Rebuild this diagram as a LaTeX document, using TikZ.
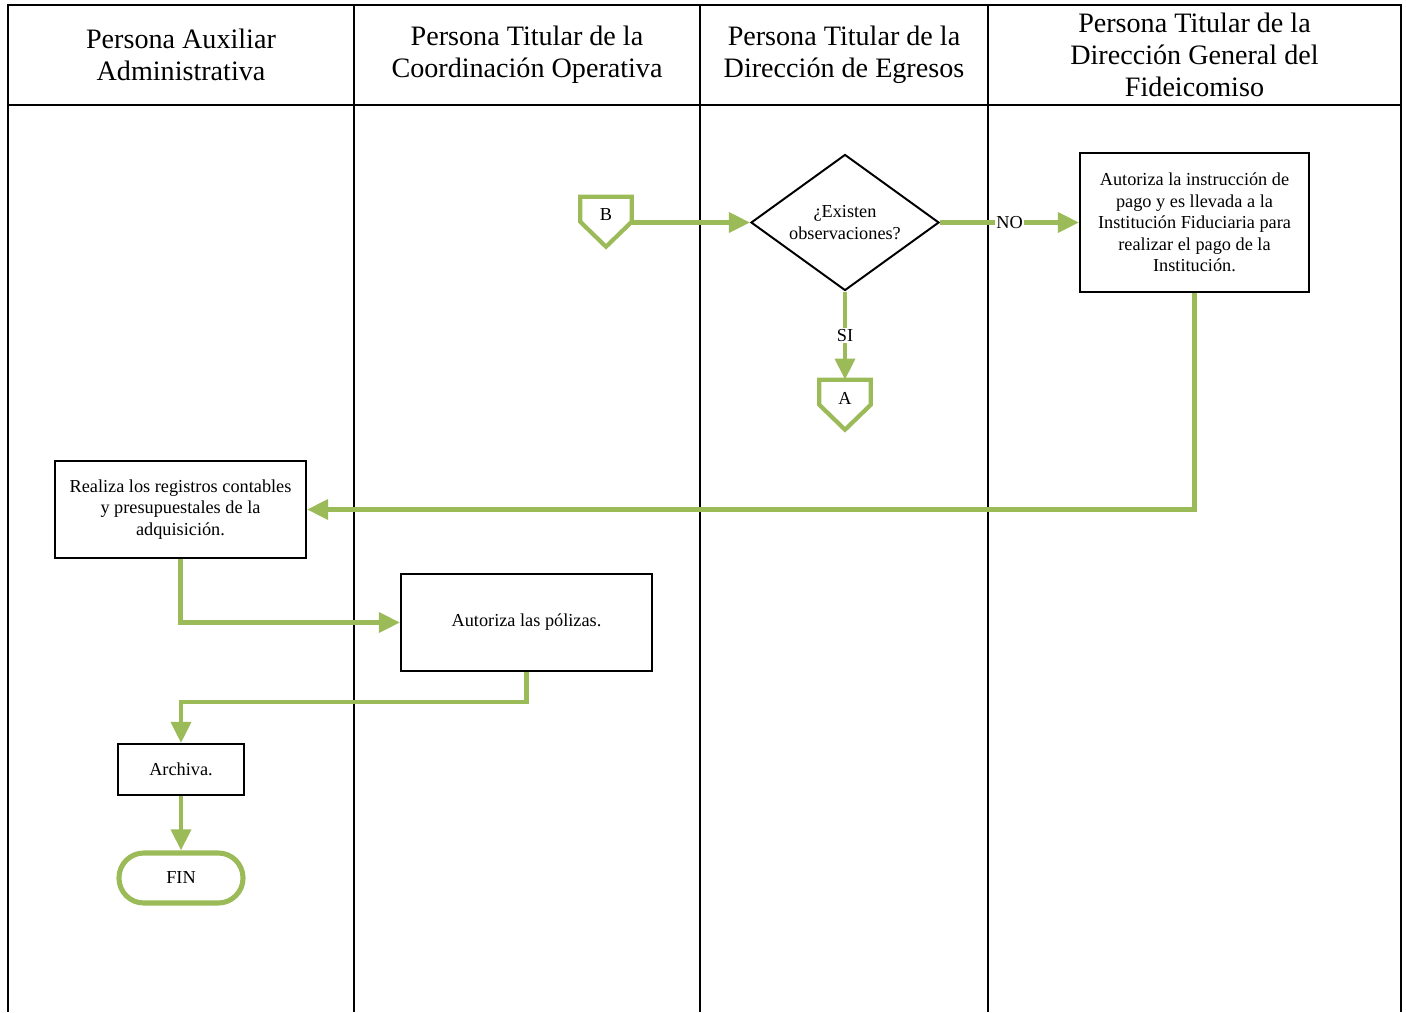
\documentclass[tikz,border=0pt]{standalone}
\usepackage{fontspec}
\setmainfont{Liberation Serif}
\usepackage{tikz}
\usetikzlibrary{shapes,positioning,arrows.meta,calc}
\definecolor{verde}{RGB}{155,187,89}
\tikzset{
  carril/.style={draw=black, line width=1.4pt},
  cabecera/.style={align=center, font=\fontsize{20}{22.7}\selectfont},
  paso/.style={draw=black, line width=1.4pt, align=center, inner sep=2pt, font=\fontsize{13}{15.3}\selectfont},
  decision/.style={diamond, aspect=1.4, draw=black, line width=1.4pt, align=center, inner sep=0pt, minimum width=4.7cm, minimum height=3.4cm, font=\fontsize{13}{15.3}\selectfont},
  conector/.style={minimum width=1.275cm, minimum height=0.9cm, inner sep=0pt, font=\fontsize{13}{15.3}\selectfont},
  borde/.style={draw=verde, line width=3pt, line join=miter},
  fin/.style={draw=verde, line width=3.6pt, rounded corners=0.62cm, minimum width=3.1cm, minimum height=1.25cm, font=\fontsize{13}{15.3}\selectfont},
  flecha/.style={draw=verde, line width=3.1pt, -{Triangle[length=15pt,width=14pt]}},
  etiqueta/.style={fill=white, inner sep=1pt, font=\fontsize{13}{15.3}\selectfont}
}
\newcommand{\pentagono}[1]{\draw[borde] (#1.north west) -- (#1.north east) -- ($(#1.north east)+(0,25)$) -- ($(#1.north)+(0,50)$) -- ($(#1.north west)+(0,25)$) -- cycle;}
\begin{document}
\begin{tikzpicture}[x=0.025cm, y=-0.025cm]
  \useasboundingbox (0,0) rectangle (1406,1012);
  \draw[carril] (8,5) rectangle (1401,105);
  \foreach \x in {8,354,700,988,1401}{\draw[carril] (\x,5) -- (\x,1012);}
  \foreach \x/\nombre/\texto in {181/aux/{Persona Auxiliar\\Administrativa},
      527/coord/{Persona Titular de la\\Coordinación Operativa},
      844/egr/{Persona Titular de la\\Dirección de Egresos},
      1194.5/dir/{Persona Titular de la\\Dirección General del\\Fideicomiso}}
      {\node[cabecera] (\nombre) at (\x,55) {\texto};}

  \node[conector] (B) at (606,215) {B};
  \pentagono{B}
  \node[decision] (obs) at (845,222.5) {¿Existen\\observaciones?};
  \node[paso, minimum width=5.725cm, minimum height=3.475cm] (aut) at (1194.5,222.5)
      {Autoriza la instrucción de\\pago y es llevada a la\\Institución Fiduciaria para\\realizar el pago de la\\Institución.};
  \node[conector] (A) at (845,398) {A};
  \pentagono{A}
  \node[paso, minimum width=6.275cm, minimum height=2.425cm] (reg) at (180.5,509.5)
      {Realiza los registros contables\\y presupuestales de la\\adquisición.};
  \node[paso, minimum width=6.275cm, minimum height=2.425cm] (pol) at (526.5,622.5) {Autoriza las pólizas.};
  \node[paso, minimum width=3.15cm, minimum height=1.275cm] (arch) at (181,769.5) {Archiva.};
  \node[fin] (fin) at (181,878) {FIN};

  \draw[flecha] (B.east |- obs) -- (obs.west);
  \draw[flecha] (obs.east) -- node[etiqueta] {NO} (aut.west);
  \draw[flecha] (obs.south) -- node[etiqueta] {SI} (A.north);
  \draw[flecha] (aut.south) |- (reg.east);
  \draw[flecha] (reg.south) |- (pol.west);
  \draw[flecha] (pol.south) -- ++(0,30) -| (arch.north);
  \draw[flecha] (arch.south) -- (fin.north);
\end{tikzpicture}
\end{document}
